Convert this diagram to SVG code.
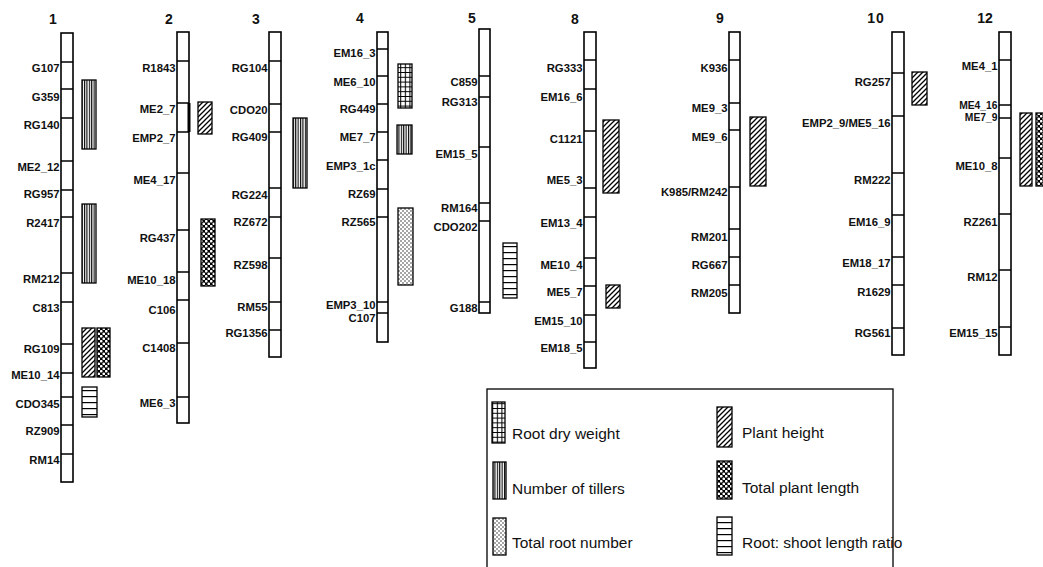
<svg xmlns="http://www.w3.org/2000/svg" width="1043" height="567" viewBox="0 0 1043 567">
<style>
.bar{fill:#fff;stroke:#000;stroke-width:1.6}
.dv{stroke:#000;stroke-width:1.4;fill:none}
.lbl{font-family:"Liberation Sans",Arial,sans-serif;font-size:11.3px;font-weight:bold;text-anchor:end;fill:#111}
.sm{font-size:10.3px}
.num{font-family:"Liberation Sans",Arial,sans-serif;font-size:14px;font-weight:bold;text-anchor:middle;fill:#111}
.leg{font-family:"Liberation Sans",Arial,sans-serif;font-size:15.5px;fill:#111}
.q{stroke:#000;stroke-width:1.3}
.vl{fill:url(#vl)}.ht{fill:url(#ht)}.ck{fill:url(#ck)}.gr{fill:url(#gr)}.dt{fill:url(#dt)}.hl{fill:url(#hl)}
</style>
<defs>
<pattern id="vl" patternUnits="userSpaceOnUse" width="2.4" height="10"><rect width="2.4" height="10" fill="#fff"/><rect x="0" width="1.1" height="10" fill="#000"/></pattern>
<pattern id="ht" patternUnits="userSpaceOnUse" width="5" height="5"><rect width="5" height="5" fill="#fff"/><path d="M0,5L5,0M-1,1L1,-1M4,6L6,4" stroke="#000" stroke-width="1.3"/></pattern>
<pattern id="ck" patternUnits="userSpaceOnUse" width="5" height="5"><rect width="5" height="5" fill="#000"/><circle cx="1.25" cy="1.25" r="1.35" fill="#fff"/><circle cx="3.75" cy="3.75" r="1.35" fill="#fff"/></pattern>
<pattern id="gr" patternUnits="userSpaceOnUse" width="4.6" height="4.8"><rect width="4.6" height="4.8" fill="#fff"/><path d="M0.5,0V4.8M0,0.5H4.6" stroke="#000" stroke-width="1.1"/></pattern>
<pattern id="dt" patternUnits="userSpaceOnUse" width="4" height="4"><rect width="4" height="4" fill="#fff"/><circle cx="1" cy="1" r="0.65" fill="#000"/><circle cx="3" cy="3" r="0.65" fill="#000"/></pattern>
<pattern id="hl" patternUnits="userSpaceOnUse" width="10" height="6"><rect width="10" height="6" fill="#fff"/><rect y="0" width="10" height="1.2" fill="#000"/></pattern>
</defs>

<g id="chr1">
<text class="num" x="53" y="24">1</text>
<rect class="bar" x="61" y="33" width="12" height="449"/>
<path class="dv" d="M61,62h12M61,89h12M61,118h12M61,161h12M61,190h12M61,217h12M61,273h12M61,302h12M61,344h12M61,373h12M61,397h12M61,425h12M61,454h12"/>
<text class="lbl" x="59.5" y="72">G107</text>
<text class="lbl" x="59.5" y="101">G359</text>
<text class="lbl" x="59.5" y="129">RG140</text>
<text class="lbl" x="59.5" y="171">ME2_12</text>
<text class="lbl" x="59.5" y="198">RG957</text>
<text class="lbl" x="59.5" y="227">R2417</text>
<text class="lbl" x="59.5" y="283">RM212</text>
<text class="lbl" x="59.5" y="312">C813</text>
<text class="lbl" x="59.5" y="353">RG109</text>
<text class="lbl" x="59.5" y="379">ME10_14</text>
<text class="lbl" x="59.5" y="408">CDO345</text>
<text class="lbl" x="59.5" y="435">RZ909</text>
<text class="lbl" x="59.5" y="464">RM14</text>
<rect class="q vl" x="82" y="80" width="14" height="69"/>
<rect class="q vl" x="82" y="204" width="14" height="79"/>
<rect class="q ht" x="82" y="328" width="13" height="49"/>
<rect class="q ck" x="97" y="328" width="13" height="49"/>
<rect class="q hl" x="82" y="387" width="15" height="30"/>
</g>

<g id="chr2">
<text class="num" x="169" y="24">2</text>
<rect class="bar" x="177" y="32" width="12" height="391"/>
<path class="dv" d="M177,61h12M177,103h12M177,132h12M177,173h12M177,230h12M177,272h12M177,300h12M177,343h12M177,397h12"/>
<path d="M189,103V132" stroke="#000" stroke-width="3"/>
<text class="lbl" x="175.5" y="72">R1843</text>
<text class="lbl" x="175.5" y="113">ME2_7</text>
<text class="lbl" x="175.5" y="142">EMP2_7</text>
<text class="lbl" x="175.5" y="184">ME4_17</text>
<text class="lbl" x="175.5" y="242">RG437</text>
<text class="lbl" x="175.5" y="284">ME10_18</text>
<text class="lbl" x="175.5" y="314">C106</text>
<text class="lbl" x="175.5" y="352">C1408</text>
<text class="lbl" x="175.5" y="407">ME6_3</text>
<rect class="q ht" x="198" y="102" width="14" height="32"/>
<rect class="q ck" x="201" y="219" width="14" height="67"/>
</g>

<g id="chr3">
<text class="num" x="256" y="24">3</text>
<rect class="bar" x="269" y="32" width="12" height="325"/>
<path class="dv" d="M269,61h12M269,104h12M269,132h12M269,188h12M269,217h12M269,258h12M269,302h12M269,330h12"/>
<text class="lbl" x="267.5" y="72">RG104</text>
<text class="lbl" x="267.5" y="114">CDO20</text>
<text class="lbl" x="267.5" y="141">RG409</text>
<text class="lbl" x="267.5" y="199">RG224</text>
<text class="lbl" x="267.5" y="226">RZ672</text>
<text class="lbl" x="267.5" y="269">RZ598</text>
<text class="lbl" x="267.5" y="311">RM55</text>
<text class="lbl" x="267.5" y="337">RG1356</text>
<rect class="q vl" x="293" y="118" width="14" height="70"/>
</g>

<g id="chr4">
<text class="num" x="360" y="23">4</text>
<rect class="bar" x="377" y="32" width="11" height="310"/>
<path class="dv" d="M377,49h11M377,76h11M377,104h11M377,132h11M377,160h11M377,189h11M377,217h11M377,302h11M377,313h11"/>
<text class="lbl" x="375.5" y="57">EM16_3</text>
<text class="lbl" x="375.5" y="86">ME6_10</text>
<text class="lbl" x="375.5" y="113">RG449</text>
<text class="lbl" x="375.5" y="141">ME7_7</text>
<text class="lbl" x="375.5" y="170">EMP3_1c</text>
<text class="lbl" x="375.5" y="198">RZ69</text>
<text class="lbl" x="375.5" y="226">RZ565</text>
<text class="lbl" x="375.5" y="309">EMP3_10</text>
<text class="lbl" x="375.5" y="322">C107</text>
<rect class="q gr" x="398" y="64" width="14" height="44"/>
<rect class="q vl" x="397" y="125" width="15" height="29"/>
<rect class="q dt" x="398" y="208" width="15" height="77"/>
</g>

<g id="chr5">
<text class="num" x="472" y="23">5</text>
<rect class="bar" x="479" y="29" width="11" height="284"/>
<path class="dv" d="M479,76h11M479,97h11M479,147h11M479,203h11M479,221h11M479,302h11"/>
<text class="lbl" x="477.5" y="86">C859</text>
<text class="lbl" x="477.5" y="106">RG313</text>
<text class="lbl" x="477.5" y="158">EM15_5</text>
<text class="lbl" x="477.5" y="212">RM164</text>
<text class="lbl" x="477.5" y="231">CDO202</text>
<text class="lbl" x="477.5" y="312">G188</text>
<rect class="q hl" x="503" y="243" width="14" height="55"/>
</g>

<g id="chr8">
<text class="num" x="575" y="24">8</text>
<rect class="bar" x="584" y="32" width="12" height="336"/>
<path class="dv" d="M584,60h12M584,89h12M584,131h12M584,188h12M584,217h12M584,258h12M584,286h12M584,315h12M584,342h12"/>
<text class="lbl" x="582.5" y="72">RG333</text>
<text class="lbl" x="582.5" y="101">EM16_6</text>
<text class="lbl" x="582.5" y="143">C1121</text>
<text class="lbl" x="582.5" y="184">ME5_3</text>
<text class="lbl" x="582.5" y="227">EM13_4</text>
<text class="lbl" x="582.5" y="269">ME10_4</text>
<text class="lbl" x="582.5" y="296">ME5_7</text>
<text class="lbl" x="582.5" y="325">EM15_10</text>
<text class="lbl" x="582.5" y="352">EM18_5</text>
<rect class="q ht" x="603" y="120" width="16" height="73"/>
<rect class="q ht" x="606" y="285" width="14" height="23"/>
</g>

<g id="chr9">
<text class="num" x="720" y="23">9</text>
<rect class="bar" x="729" y="32" width="11" height="281"/>
<path class="dv" d="M729,60h11M729,103h11M729,130h11M729,187h11M729,229h11M729,257h11M729,285h11"/>
<text class="lbl" x="727.5" y="72">K936</text>
<text class="lbl" x="727.5" y="112">ME9_3</text>
<text class="lbl" x="727.5" y="141">ME9_6</text>
<text class="lbl" x="727.5" y="196">K985/RM242</text>
<text class="lbl" x="727.5" y="241">RM201</text>
<text class="lbl" x="727.5" y="269">RG667</text>
<text class="lbl" x="727.5" y="297">RM205</text>
<rect class="q ht" x="750" y="117" width="16" height="69"/>
</g>

<g id="chr10">
<text class="num" x="876" y="23" letter-spacing="1">10</text>
<rect class="bar" x="892" y="32" width="12" height="323"/>
<path class="dv" d="M892,73h12M892,116h12M892,173h12M892,215h12M892,257h12M892,285h12M892,328h12"/>
<text class="lbl" x="890.5" y="86">RG257</text>
<text class="lbl" x="890.5" y="127">EMP2_9/ME5_16</text>
<text class="lbl" x="890.5" y="184">RM222</text>
<text class="lbl" x="890.5" y="226">EM16_9</text>
<text class="lbl" x="890.5" y="267">EM18_17</text>
<text class="lbl" x="890.5" y="296">R1629</text>
<text class="lbl" x="890.5" y="337">RG561</text>
<rect class="q ht" x="912" y="72" width="15" height="33"/>
</g>

<g id="chr12">
<text class="num" x="985" y="23">12</text>
<rect class="bar" x="999" y="32" width="12" height="323"/>
<path class="dv" d="M999,60h12M999,105h12M999,118h12M999,158h12M999,214h12M999,270h12M999,327h12"/>
<text class="lbl" x="997.5" y="70">ME4_1</text>
<text class="lbl sm" x="997.5" y="109">ME4_16</text>
<text class="lbl sm" x="997.5" y="121">ME7_9</text>
<text class="lbl" x="997.5" y="170">ME10_8</text>
<text class="lbl" x="997.5" y="226">RZ261</text>
<text class="lbl" x="997.5" y="281">RM12</text>
<text class="lbl" x="997.5" y="337">EM15_15</text>
<rect class="q ht" x="1020" y="113" width="12" height="73"/>
<rect class="q ck" x="1036" y="113" width="11" height="73"/>
</g>

<g id="legend">
<rect x="487" y="389" width="406" height="190" fill="none" stroke="#000" stroke-width="1.3"/>
<rect class="q gr" x="492" y="402" width="13" height="41"/>
<text class="leg" x="512" y="439">Root dry weight</text>
<rect class="q vl" x="493" y="462" width="13" height="37"/>
<text class="leg" x="512" y="494">Number of tillers</text>
<rect class="q dt" x="493" y="518" width="13" height="37"/>
<text class="leg" x="512" y="548">Total root number</text>
<rect class="q ht" x="717" y="407" width="15" height="40"/>
<text class="leg" x="742" y="438">Plant height</text>
<rect class="q ck" x="717" y="461" width="15" height="38"/>
<text class="leg" x="742" y="493">Total plant length</text>
<rect class="q hl" x="717" y="517" width="15" height="38"/>
<text class="leg" x="742" y="548">Root: shoot length ratio</text>
</g>
</svg>
